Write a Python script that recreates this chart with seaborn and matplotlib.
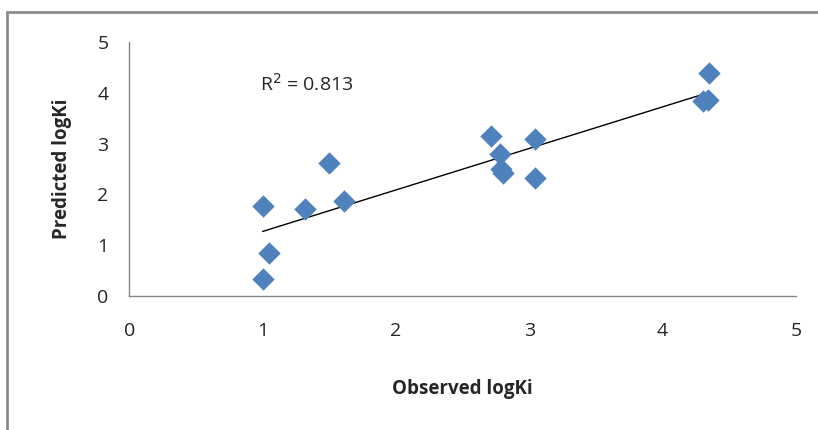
import matplotlib

matplotlib.use("Agg")
import matplotlib.pyplot as plt
import numpy as np
import pandas as pd
import seaborn as sns
from matplotlib.lines import Line2D

# values
observed = [1.00, 1.05, 1.00, 1.32, 1.50, 1.61, 2.71, 2.78, 2.79, 2.80, 3.04, 3.04, 4.35, 4.30, 4.34]
predicted = [1.78, 0.85, 0.33, 1.71, 2.61, 1.87, 3.16, 2.79, 2.50, 2.43, 3.10, 2.33, 4.40, 3.84, 3.85]
r2_label = "R$^2$ = 0.813"
x_ticks = [0, 1, 2, 3, 4, 5]
y_ticks = [0, 1, 2, 3, 4, 5]

df = pd.DataFrame({"observed": observed, "predicted": predicted})

sns.set_style("white")
plt.rcParams["font.family"] = ["Open Sans", "DejaVu Sans"]

fig = plt.figure(figsize=(8.18, 4.30), dpi=100)
ax = fig.add_axes([0.158, 0.312, 0.815, 0.590])

sns.regplot(
    data=df, x="observed", y="predicted", ax=ax, scatter=False, ci=None,
    line_kws={"color": "black", "linewidth": 1.0},
)
sns.scatterplot(
    data=df, x="observed", y="predicted", ax=ax, marker="D", s=130,
    color="#4F81BD", edgecolor="#4F81BD", linewidth=0, zorder=3,
)

ax.set_xlim(0, 5)
ax.set_ylim(0, 5)
ax.set_xticks(x_ticks)
ax.set_yticks(y_ticks)
ax.tick_params(axis="x", direction="out", length=6, width=1, color="#868686",
               labelsize=14, pad=13)
ax.tick_params(axis="y", direction="out", length=5, width=1, color="#868686",
               labelsize=14, pad=10)
for side in ["top", "right"]:
    ax.spines[side].set_visible(False)
for side in ["left", "bottom"]:
    ax.spines[side].set_color("#868686")
    ax.spines[side].set_linewidth(1)

ax.set_xlabel("Observed logKi", fontsize=13.5, fontweight="bold", labelpad=28)
ax.set_ylabel("Predicted logKi", fontsize=13.5, fontweight="bold", labelpad=18)
ax.text(0.98, 4.17, r2_label, fontsize=14, va="center", ha="left")

# outer chart-area frame (only left and top edges are visible)
frame_kw = dict(transform=fig.transFigure, color="#8c8c8c", linewidth=2)
fig.add_artist(Line2D([7 / 818, 7 / 818], [0, 1 - 12 / 430], **frame_kw))
fig.add_artist(Line2D([7 / 818, 1], [1 - 12 / 430, 1 - 12 / 430], **frame_kw))

fig.savefig("out.png", dpi=100)
